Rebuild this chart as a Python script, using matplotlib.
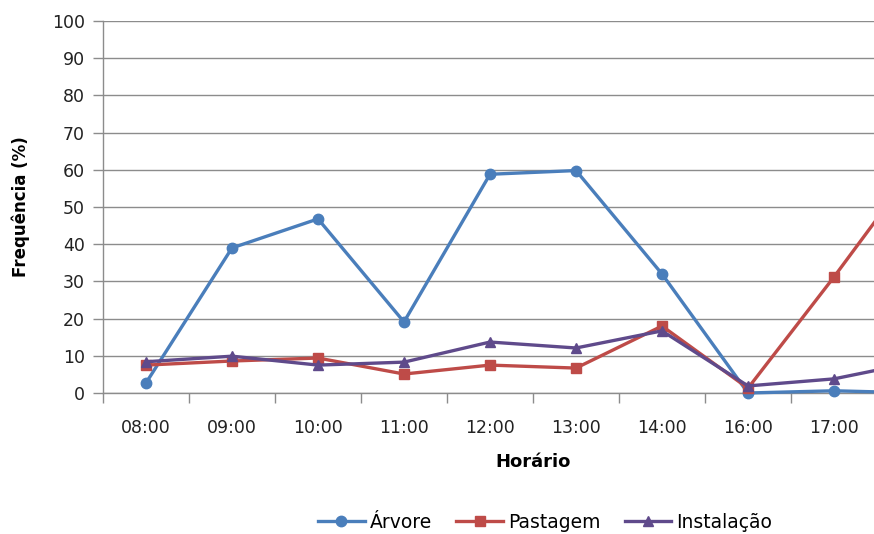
import matplotlib
matplotlib.use("Agg")
import matplotlib.pyplot as plt
import numpy as np

horarios = ["08:00", "09:00", "10:00", "11:00", "12:00", "13:00", "14:00", "16:00", "17:00", "18:00"]
arvore = [2.7, 39.0, 46.8, 19.1, 58.8, 59.8, 32.0, 0.0, 0.6, 0.0]
pastagem = [7.5, 8.6, 9.4, 5.1, 7.5, 6.7, 18.0, 1.3, 31.2, 62.4]
instalacao = [8.4, 9.9, 7.5, 8.3, 13.7, 12.1, 16.7, 1.9, 3.8, 8.5]
y_ticks = list(range(0, 101, 10))

plt.rcParams['font.family'] = ['DejaVu Sans']
W, H = 874, 534
fig = plt.figure(figsize=(W / 100, H / 100), dpi=100)
left, right, top, bottom = 103, 963, 21, 393
ax = fig.add_axes([left / W, 1 - bottom / H, (right - left) / W, (bottom - top) / H])

x = np.arange(len(horarios))
ax.plot(x, arvore, color="#4A7EBB", lw=2.4, marker="o", ms=7.5, label="Árvore", clip_on=False, zorder=3)
ax.plot(x, pastagem, color="#BE4B48", lw=2.4, marker="s", ms=7.5, label="Pastagem", clip_on=False, zorder=3)
ax.plot(x, instalacao, color="#5F4A8B", lw=2.4, marker="^", ms=7.5, label="Instalação", clip_on=False, zorder=4)

ax.set_xlim(-0.5, len(horarios) - 0.5)
ax.set_ylim(0, 100)
ax.set_yticks(y_ticks)
ax.yaxis.grid(True, color="#8C8C8C", lw=1)
ax.set_axisbelow(True)
for s in ["top", "right"]:
    ax.spines[s].set_visible(False)
for s in ["left", "bottom"]:
    ax.spines[s].set_color("#8C8C8C")
    ax.spines[s].set_linewidth(1)

# only the categories that fall inside the visible figure get a label
visible = [h if xi * 86 + 146 < W - 20 else "" for xi, h in zip(x, horarios)]
ax.set_xticks(x)
ax.set_xticklabels(visible)
ax.set_xticks(np.arange(len(horarios) + 1) - 0.5, minor=True)
ax.tick_params(axis="x", which="major", length=0, pad=19, labelsize=12.5)
ax.tick_params(axis="x", which="minor", length=7, color="#8C8C8C", width=1)
ax.tick_params(axis="y", length=7, color="#8C8C8C", width=1, labelsize=12.5, pad=6)
for lbl in ax.get_xticklabels() + ax.get_yticklabels():
    lbl.set_color("#222222")

ax.set_ylabel("Frequência (%)", fontsize=12, fontweight="bold", labelpad=16)
ax.set_xlabel("Horário", fontsize=13, fontweight="bold", labelpad=11)

fig.legend(loc="center", bbox_to_anchor=(545 / W, 1 - 522 / H), ncol=3, frameon=False,
           fontsize=13.5, handlelength=2.5, columnspacing=1.3, handletextpad=0.25)

fig.savefig("out.png", dpi=100)
